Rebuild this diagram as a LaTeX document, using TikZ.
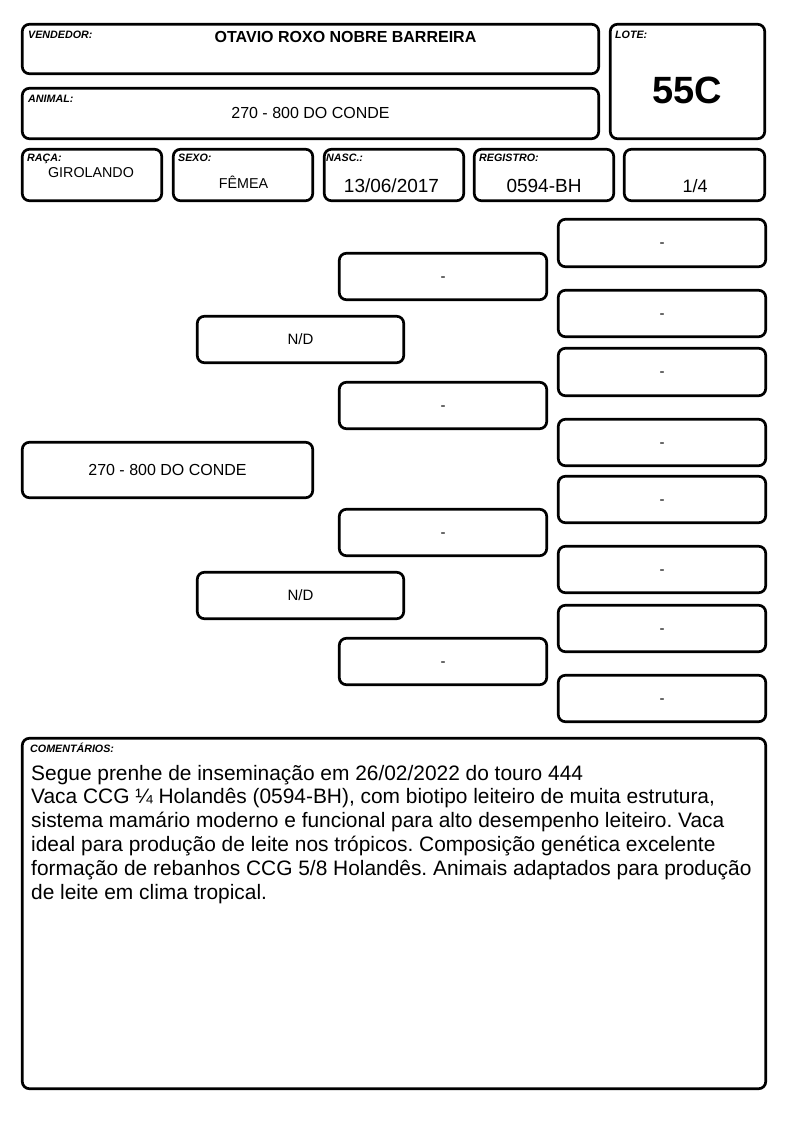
\documentclass[tikz,border=0pt]{standalone}
\usepackage{fontspec}
\setmainfont{Liberation Sans}
\usetikzlibrary{fit}
\frenchspacing
\tikzset{
 box/.style={draw, line width=2.7pt, rounded corners=7pt, inner sep=0pt},
 lab/.style={font=\fontsize{10.7}{12}\selectfont\bfseries\itshape, inner sep=0pt, anchor=base west},
 val/.style={inner sep=0pt, anchor=base},
 pedtxt/.style={font=\fontsize{15}{18}\selectfont, inner sep=0pt},
 dashtxt/.style={font=\fontsize{15}{18}\selectfont, inner sep=0pt, anchor=base, yshift=-4.5pt},
 ctxt/.style={font=\fontsize{20.9}{24}\selectfont, inner sep=0pt, anchor=base west},
}
% name, x1, y1, x2, y2 (outer edges), text, text style
\newcommand\pbx[7][pedtxt]{\node[box, fit={(#3+1.3,#4+1.3) (#5-1.3,#6-1.3)}] (#2) {};
  \node[#1] (#2t) at (#2.center) {#7};}
\begin{document}
\begin{tikzpicture}[x=1pt,y=-1pt]
\useasboundingbox (0,0) rectangle (794,1123);
% header boxes
\pbx{vend}{21}{23}{600}{75}{}
\pbx{lote}{609}{23}{766}{140}{}
\pbx{anim}{21}{87}{600}{140}{}
\pbx{raca}{21}{148}{163}{202}{}
\pbx{sexo}{172}{148}{314}{202}{}
\pbx{nasc}{323}{148}{465}{202}{}
\pbx{reg}{473}{148}{615}{202}{}
\pbx{frac}{623}{148}{766}{202}{}
% header labels
\node[lab] (vendl) at (28,39) {VENDEDOR:};
\node[lab] (animl) at (28,103) {ANIMAL:};
\node[lab] (lotel) at (615,39) {LOTE:};
\node[lab] (racal) at (27,162) {RAÇA:};
\node[lab] (sexol) at (178,162) {SEXO:};
\node[lab] (nascl) at (326,162) {NASC.:};
\node[lab] (regl) at (479,162) {REGISTRO:};
% header values
\node[val, font=\fontsize{16}{19}\selectfont\bfseries] (vendv) at (345.5,43) {OTAVIO ROXO NOBRE BARREIRA};
\node[val, font=\fontsize{16}{19}\selectfont] (animv) at (310.5,119) {270 - 800 DO CONDE};
\node[val, font=\fontsize{38}{44}\selectfont\bfseries] (lotev) at (687,104) {55C};
\node[val, font=\fontsize{14.3}{17}\selectfont] (racav) at (91,178) {GIROLANDO};
\node[val, font=\fontsize{14.3}{17}\selectfont] (sexov) at (243.5,189) {FÊMEA};
\node[val, font=\fontsize{19}{22}\selectfont] (nascv) at (391.5,193) {13/06/2017};
\node[val, font=\fontsize{19}{22}\selectfont] (regv) at (544,193) {0594-BH};
\node[val, font=\fontsize{18}{22}\selectfont] (fracv) at (695,193) {1/4};
% pedigree
\pbx[pedtxt, font=\fontsize{16}{19}\selectfont]{p1}{21}{441}{314}{499}{270 - 800 DO CONDE}
\pbx{p2a}{196}{315}{405}{364}{N/D}
\pbx{p2b}{196}{571}{405}{620}{N/D}
\pbx[dashtxt]{p3a}{338}{252}{548}{301}{-}
\pbx[dashtxt]{p3b}{338}{381}{548}{430}{-}
\pbx[dashtxt]{p3c}{338}{508}{548}{557}{-}
\pbx[dashtxt]{p3d}{338}{637}{548}{686}{-}
\pbx[dashtxt]{p4a}{557}{218}{767}{268}{-}
\pbx[dashtxt]{p4b}{557}{289}{767}{338}{-}
\pbx[dashtxt]{p4c}{557}{347}{767}{397}{-}
\pbx[dashtxt]{p4d}{557}{418}{767}{467}{-}
\pbx[dashtxt]{p4e}{557}{475}{767}{524}{-}
\pbx[dashtxt]{p4f}{557}{545}{767}{594}{-}
\pbx[dashtxt]{p4g}{557}{604}{767}{653}{-}
\pbx[dashtxt]{p4h}{557}{674}{767}{723}{-}
% comments
\pbx{com}{21}{737}{767}{1090}{}
\node[lab] (coml) at (30,752) {COMENTÁRIOS:};
\node[ctxt] (c1) at (31,780) {Segue prenhe de inseminação em 26/02/2022 do touro 444};
\node[ctxt] (c2) at (31,803.8) {Vaca CCG ¼ Holandês (0594-BH), com biotipo leiteiro de muita estrutura,};
\node[ctxt] (c3) at (31,827.6) {sistema mamário moderno e funcional para alto desempenho leiteiro. Vaca};
\node[ctxt] (c4) at (31,851.4) {ideal para produção de leite nos trópicos. Composição genética excelente};
\node[ctxt] (c5) at (31,875.2) {formação de rebanhos CCG 5/8 Holandês. Animais adaptados para produção};
\node[ctxt] (c6) at (31,899) {de leite em clima tropical.};
\end{tikzpicture}
\end{document}
